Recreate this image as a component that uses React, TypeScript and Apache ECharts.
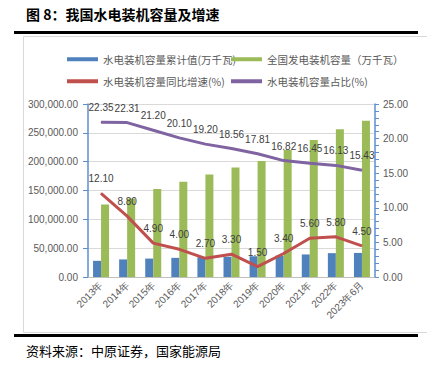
import React, { useEffect, useRef } from "react";
import * as echarts from "echarts";

const categories = ["2013年", "2014年", "2015年", "2016年", "2017年", "2018年", "2019年", "2020年", "2021年", "2022年", "2023年6月"];
const hydroCapacity = [28044, 30486, 31954, 33207, 34359, 35226, 35804, 37016, 39092, 41350, 41768];
const totalCapacity = [125768, 136019, 152527, 165051, 177708, 190012, 201066, 220058, 237692, 256405, 271000];
const hydroGrowth = [12.1, 8.8, 4.9, 4.0, 2.7, 3.3, 1.5, 3.4, 5.6, 5.8, 4.5];
const hydroShare = [22.35, 22.31, 21.2, 20.1, 19.2, 18.56, 17.81, 16.82, 16.45, 16.13, 15.43];
const seriesNames = ["水电装机容量累计值(万千瓦)", "全国发电装机容量（万千瓦）", "水电装机容量同比增速(%)", "水电装机容量占比(%)"];

const BLUE = "#4f81bd";
const GREEN = "#9bbb59";
const RED = "#c0504d";
const PURPLE = "#8064a2";
const AXIS_BLUE = "#5b8fd0";
const CJK = '"Noto Sans CJK SC", sans-serif';
const NUM = '"Liberation Sans", "Noto Sans", sans-serif';

export default function App() {
  const ref = useRef<HTMLDivElement>(null);
  useEffect(() => {
    document.body.style.margin = "0";
    const chart = echarts.init(ref.current!, undefined, { renderer: "svg" });
    const legendPos = [
      [62, 49],
      [226, 49],
      [62, 71],
      [226, 71],
    ];
    const colors = [BLUE, GREEN, RED, PURPLE];
    const lineLabel = {
      show: true,
      position: "top",
      distance: 9,
      color: "#404040",
      fontSize: 10,
      fontFamily: NUM,
      formatter: (p: any) => Number(p.value).toFixed(2),
    };
    chart.setOption({
      animation: false,
      backgroundColor: "#ffffff",
      graphic: [
        { type: "text", left: 26, top: 7, style: { text: "图 8：我国水电装机容量及增速", font: `bold 14px ${CJK}`, fill: "#000" } },
        { type: "rect", shape: { x: 14, y: 31, width: 404, height: 3 }, style: { fill: "#000" } },
        { type: "rect", shape: { x: 23.5, y: 36.5, width: 410, height: 296 }, style: { fill: "none", stroke: "#d9d9d9", lineWidth: 1 } },
        { type: "rect", shape: { x: 14, y: 334, width: 404, height: 3 }, style: { fill: "#000" } },
        { type: "text", left: 26, top: 344, style: { text: "资料来源：中原证券，国家能源局", font: `13px ${CJK}`, fill: "#000" } },
      ],
      legend: seriesNames.map((n, i) => ({
        left: legendPos[i][0],
        top: legendPos[i][1],
        data: [{ name: n, icon: "rect", itemStyle: { color: colors[i] } }],
        itemWidth: 31,
        itemHeight: 4,
        itemGap: 5,
        textStyle: { color: "#595959", fontSize: 10.5, fontFamily: CJK },
      })),
      grid: { left: 88, right: 52, top: 104, bottom: 94, containLabel: false },
      xAxis: {
        type: "category",
        data: categories,
        axisLine: { lineStyle: { color: "#bfbfbf" } },
        axisTick: { show: false },
        axisLabel: { rotate: 45, color: "#595959", fontSize: 10, fontFamily: NUM, interval: 0, margin: 6 },
      },
      yAxis: [
        {
          type: "value",
          min: 0,
          max: 300000,
          interval: 50000,
          axisLine: { show: true, lineStyle: { color: AXIS_BLUE, width: 1.5 } },
          axisTick: { show: true, lineStyle: { color: AXIS_BLUE } },
          splitLine: { lineStyle: { color: "#d9d9d9" } },
          axisLabel: {
            color: "#595959",
            fontSize: 10,
            fontFamily: NUM,
            margin: 10,
            formatter: (v: number) => v.toLocaleString("en-US", { minimumFractionDigits: 2, maximumFractionDigits: 2 }),
          },
        },
        {
          type: "value",
          min: 0,
          max: 25,
          interval: 5,
          axisLine: { show: true, lineStyle: { color: AXIS_BLUE, width: 1.5 } },
          axisTick: { show: true, length: 4, lineStyle: { color: AXIS_BLUE } },
          minorTick: { show: true, splitNumber: 5, length: 4, lineStyle: { color: AXIS_BLUE } },
          splitLine: { show: false },
          axisLabel: { color: "#595959", fontSize: 10, fontFamily: NUM, margin: 8, formatter: (v: number) => v.toFixed(2) },
        },
      ],
      series: [
        { name: seriesNames[0], type: "bar", data: hydroCapacity, itemStyle: { color: BLUE }, barWidth: 8, barGap: "0%" },
        { name: seriesNames[1], type: "bar", data: totalCapacity, itemStyle: { color: GREEN }, barWidth: 8, barGap: "0%" },
        {
          name: seriesNames[2],
          type: "line",
          yAxisIndex: 1,
          data: hydroGrowth,
          symbol: "circle",
          symbolSize: 1,
          showSymbol: true,
          lineStyle: { color: RED, width: 3 },
          itemStyle: { color: RED },
          label: lineLabel,
          labelLayout: { hideOverlap: false },
        },
        {
          name: seriesNames[3],
          type: "line",
          yAxisIndex: 1,
          data: hydroShare,
          symbol: "circle",
          symbolSize: 1,
          showSymbol: true,
          lineStyle: { color: PURPLE, width: 3 },
          itemStyle: { color: PURPLE },
          label: lineLabel,
          labelLayout: { hideOverlap: false },
        },
      ],
    });
    return () => chart.dispose();
  }, []);
  return <div ref={ref} style={{ width: 427, height: 371 }} />;
}
